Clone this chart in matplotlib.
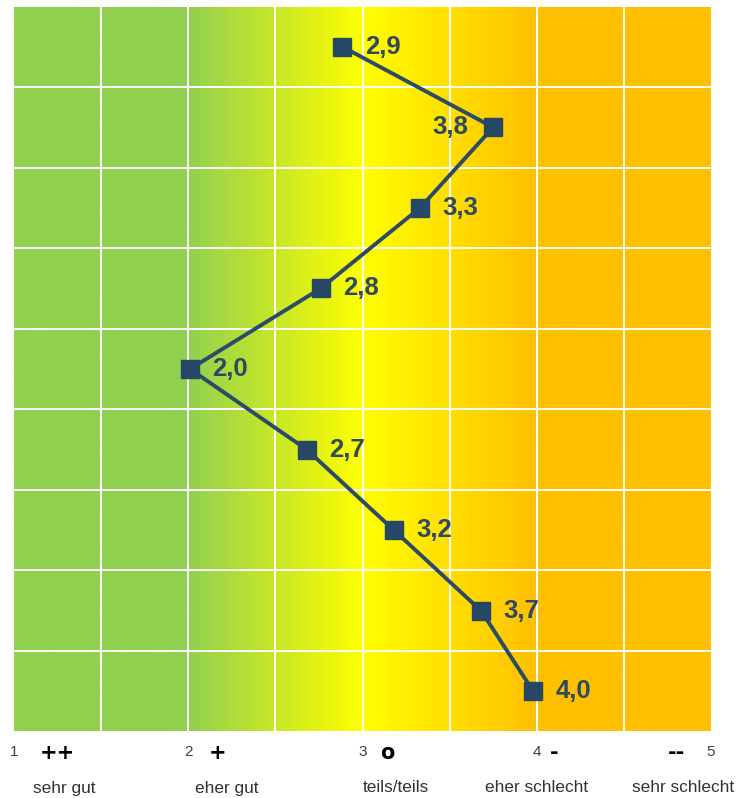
import numpy as np
import matplotlib
matplotlib.use("Agg")
import matplotlib.pyplot as plt
from matplotlib.colors import LinearSegmentedColormap

# Data
values = [2.885, 3.75, 3.33, 2.76, 2.01, 2.68, 3.18, 3.68, 3.98]
value_labels = ["2,9", "3,8", "3,3", "2,8", "2,0", "2,7", "3,2", "3,7", "4,0"]
label_side = ["right", "left", "right", "right", "right", "right", "right", "right", "right"]
tick_numbers = ["1", "2", "3", "4", "5"]
tick_positions = [1, 2, 3, 4, 5]
symbols = ["++", "+", "o", "-", "--"]
symbol_positions = [1.25, 2.17, 3.14, 4.10, 4.80]
scale_labels = ["sehr gut", "eher gut", "teils/teils", "eher schlecht", "sehr schlecht"]
scale_label_positions = [1.29, 2.22, 3.19, 4.00, 4.84]

plt.rcParams['font.family'] = ['Liberation Sans', 'DejaVu Sans']

fig = plt.figure(figsize=(7.37, 7.98), dpi=100)
ax = fig.add_axes([14/737, 66.5/798, 697/737, 725/798])

n = len(values)
ax.set_xlim(1, 5)
ax.set_ylim(n - 0.5, -0.5)

# background gradient
cmap = LinearSegmentedColormap.from_list(
    "bg", [(0.0, "#92D050"), (0.25, "#92D050"), (0.5, "#FFFF00"),
           (0.75, "#FFC000"), (1.0, "#FFC000")])
grad = np.linspace(0, 1, 800).reshape(1, -1)
ax.imshow(grad, cmap=cmap, aspect="auto", extent=[1, 5, n - 0.5, -0.5], zorder=0)

# grid
for x in np.arange(1.5, 5.0, 0.5):
    ax.axvline(x, color="white", lw=1.4, zorder=1)
for y in np.arange(0.5, n - 0.5, 1.0):
    ax.axhline(y, color="white", lw=1.4, zorder=1)

ys = np.arange(n)
line_color = "#2B4B66"
ax.plot(values, ys, color=line_color, lw=2.8, marker="s", markersize=12.5,
        markerfacecolor="#264866", markeredgecolor="#264866", zorder=3)

for v, y, lab, side in zip(values, ys, value_labels, label_side):
    if side == "right":
        ax.annotate(lab, (v, y), xytext=(16, 0), textcoords="offset points",
                    ha="left", va="center", fontsize=18.5, fontweight="bold",
                    color="#2F4A5E", zorder=4)
    else:
        ax.annotate(lab, (v, y), xytext=(-18, 0), textcoords="offset points",
                    ha="right", va="center", fontsize=18.5, fontweight="bold",
                    color="#2F4A5E", zorder=4)

ax.set_xticks([])
ax.set_yticks([])
for s in ax.spines.values():
    s.set_visible(False)

# bottom annotations in figure pixel coordinates
def fx(xv):
    return (14 + (xv - 1) * 174.25) / 737

for pos, t in zip(tick_positions, tick_numbers):
    fig.text(fx(pos), 1 - 752/798, t, ha="center", va="center", fontsize=11, color="#404040")
for pos, t in zip(symbol_positions, symbols):
    fig.text(fx(pos), 1 - 753/798, t, ha="center", va="center", fontsize=15,
             fontweight="bold", color="black", family=["DejaVu Sans"])
for pos, t in zip(scale_label_positions, scale_labels):
    fig.text(fx(pos), 1 - 788/798, t, ha="center", va="center", fontsize=12.4, color="#333333")

fig.savefig("out.png", dpi=100, facecolor="white")
